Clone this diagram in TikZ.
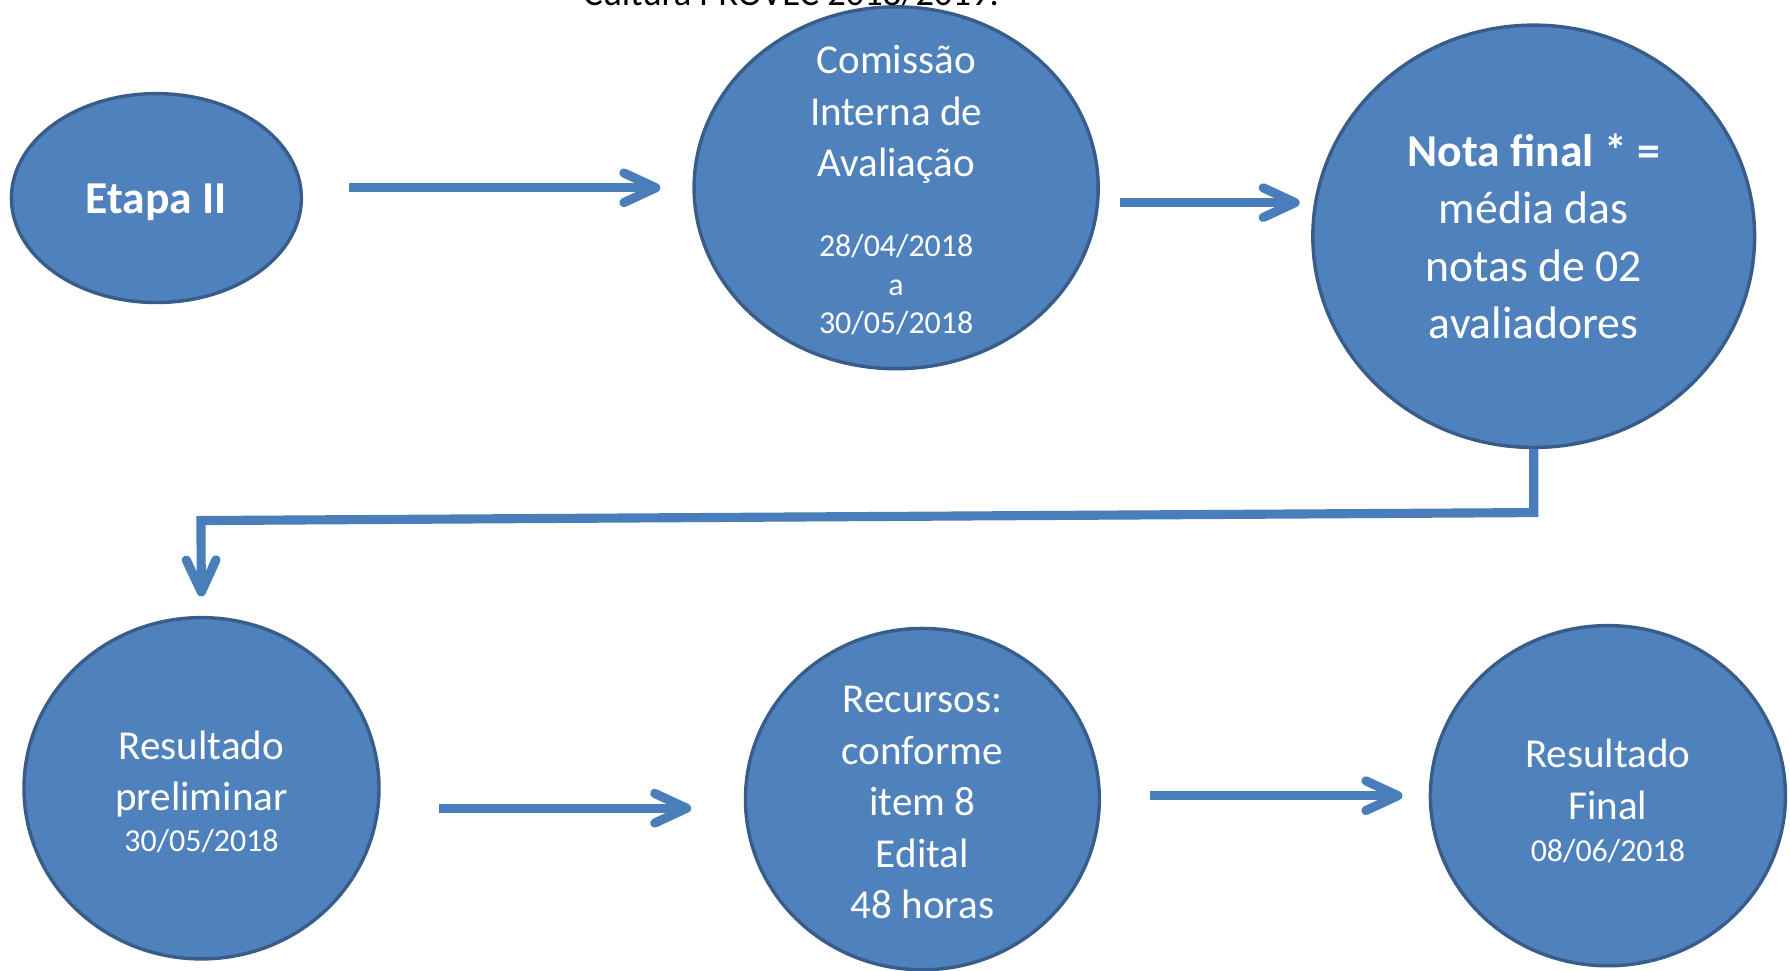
\documentclass[tikz,border=0pt]{standalone}
\usepackage{fontspec}
\setmainfont{Carlito}
\usetikzlibrary{arrows.meta, shapes.geometric, calc}
\definecolor{stagefill}{HTML}{4F81BD}
\definecolor{stageline}{HTML}{385D8A}
\definecolor{flowline}{HTML}{4A7EBB}
\newcommand{\Date}[1]{{\fontsize{14}{17}\selectfont #1}}
\newcommand{\Lift}[1]{\rule{0pt}{#1}}
\tikzset{
    stage/.style={ellipse, draw=stageline, fill=stagefill, line width=1.5pt,
      inner sep=-1cm, text=white, align=center, font=\fontsize{18}{22.5}\selectfont},
    flow/.style={draw=flowline, line width=4pt,
      -{Straight Barb[length=14pt, width=13pt, round]}},
    heading/.style={font=\fontsize{16}{19}\selectfont, anchor=base},
}
\begin{document}
\begin{tikzpicture}[x=0.5pt, y=-0.5pt]
    \useasboundingbox (0,0) rectangle (1568,850);

    \node[heading] (ttl) at (693,5) {Cultura PROVEC 2018/2019.};

    % first row
    \node[stage, minimum width=127pt, minimum height=91.5pt,
      font=\fontsize{20}{24}\selectfont\bfseries] (etapa) at (137,173.5) {\Lift{17pt}Etapa II};
    \node[stage, minimum width=177pt, minimum height=158.5pt] (cia) at (785,164.5)
      {\Lift{14.6pt}Comissão\\Interna de\\Avaliação\\[12.5pt]\Date{28/04/2018}\\[-5.5pt]\Date{a}\\[-5.5pt]\Date{30/05/2018}};
    \node[stage, minimum width=193.5pt, minimum height=185pt,
      font=\fontsize{20}{25}\selectfont] (nota) at (1343.5,207)
      {\textbf{Nota final * =}\\média das\\notas de 02\\avaliadores};

    % second row
    \node[stage, minimum width=155.5pt, minimum height=149.5pt] (prelim) at (176.5,690.5)
      {\Lift{15.7pt}Resultado\\preliminar\\[-4.5pt]\Date{30/05/2018}};
    \node[stage, minimum width=155pt, minimum height=149.5pt] (rec) at (808,700)
      {\Lift{14.6pt}Recursos:\\conforme\\item 8\\Edital\\48 horas};
    \node[stage, minimum width=155.5pt, minimum height=149pt] (final) at (1408.5,697)
      {\Lift{17.2pt}Resultado\\Final\\[-4pt]\Date{08/06/2018}};

    \coordinate (bendR) at (1343.5,449);
    \coordinate (bendL) at (176,456);

    \draw[flow, shorten <=20pt, shorten >=14pt] (etapa.east |- cia) -- (cia.west);
    \draw[flow, shorten <=9pt, shorten >=5pt] ([yshift=-6.5pt]cia.east) -- ([yshift=-6.5pt]cia.east -| nota.west);
    \draw[flow, shorten >=8.5pt] (nota.south) -- (bendR) -- (bendL) -- (prelim.north);
    \draw[flow, shorten <=25.5pt, shorten >=23pt] ([yshift=-8.75pt]prelim.east) -- ([yshift=-8.75pt]prelim.east -| rec.west);
    \draw[flow, shorten <=21.5pt, shorten >=11.5pt] (rec.east |- final) -- (final.west);
\end{tikzpicture}
\end{document}
